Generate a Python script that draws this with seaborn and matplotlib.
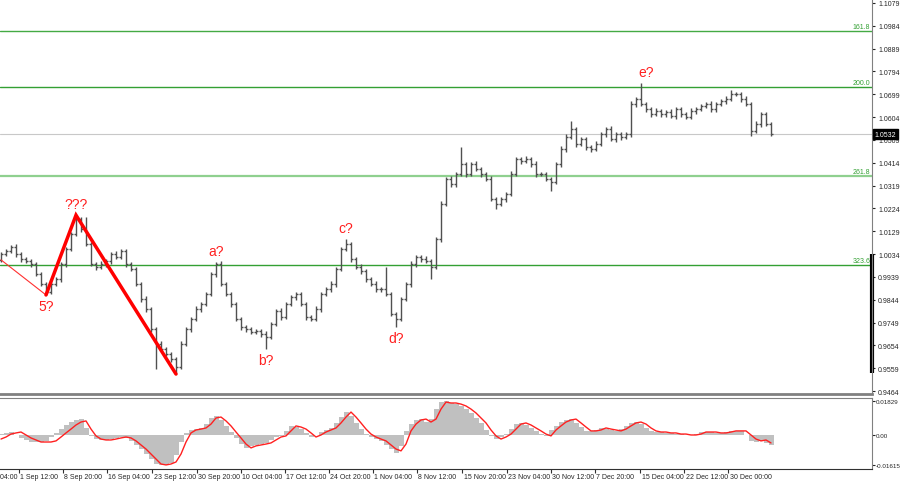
import numpy as np
import pandas as pd
import matplotlib
matplotlib.use("Agg")
import matplotlib.pyplot as plt
import matplotlib.transforms as mtransforms
import seaborn as sns

# bar closes, left to right (open = previous close)
first_open = 1.0010
closes = [
    1.0034, 1.0046, 1.0063, 1.0034, 1.0013, 1.0005, 0.9992, 0.9951, 0.9909, 0.9876,
    0.9909, 0.9930, 0.9992, 1.0055, 1.0117, 1.0180, 1.0138, 1.0076, 0.9992, 0.9980,
    0.9992, 1.0005, 1.0034, 1.0022, 1.0046, 0.9992, 0.9972, 0.9909, 0.9847, 0.9805,
    0.9722, 0.9660, 0.9639, 0.9618, 0.9597, 0.9564, 0.9660, 0.9722, 0.9764, 0.9805,
    0.9826, 0.9868, 0.9951, 0.9992, 0.9909, 0.9868, 0.9826, 0.9764, 0.9730, 0.9722,
    0.9710, 0.9714, 0.9701, 0.9689, 0.9743, 0.9797, 0.9772, 0.9826, 0.9855, 0.9868,
    0.9826, 0.9772, 0.9764, 0.9805, 0.9868, 0.9888, 0.9909, 0.9972, 1.0055, 1.0076,
    1.0013, 0.9980, 0.9963, 0.9930, 0.9909, 0.9888, 0.9888, 0.9868, 0.9784, 0.9764,
    0.9847, 0.9909, 0.9992, 1.0022, 1.0013, 1.0005, 0.9980, 1.0096, 1.0242, 1.0346,
    1.0325, 1.0367, 1.0408, 1.0367, 1.0408, 1.0388, 1.0367, 1.0346, 1.0263, 1.0242,
    1.0263, 1.0284, 1.0367, 1.0429, 1.0421, 1.0429, 1.0408, 1.0367, 1.0367, 1.0346,
    1.0334, 1.0408, 1.0471, 1.0521, 1.0554, 1.0492, 1.0512, 1.0479, 1.0471, 1.0492,
    1.0533, 1.0554, 1.0512, 1.0533, 1.0521, 1.0533, 1.0658, 1.0679, 1.0658, 1.0637,
    1.0616, 1.0629, 1.0616, 1.0625, 1.0608, 1.0637, 1.0616, 1.0604, 1.0629, 1.0637,
    1.0650, 1.0658, 1.0637, 1.0658, 1.0670, 1.0679, 1.0700, 1.0700, 1.0679, 1.0658,
    1.0546, 1.0575, 1.0616, 1.0575, 1.0532,
]
# wick sizes in pips above max(open, close) and below min(open, close)
up_wick = [
    10, 8, 9, 12, 8, 10, 9, 8, 10, 8,
    9, 10, 8, 9, 10, 16, 8, 50, 10, 9,
    12, 9, 10, 11, 10, 8, 9, 10, 8, 12,
    9, 10, 11, 8, 9, 10, 12, 9, 10, 11,
    8, 9, 10, 9, 12, 10, 8, 9, 10, 11,
    9, 8, 10, 12, 9, 10, 11, 9, 10, 8,
    9, 10, 8, 11, 9, 10, 12, 9, 10, 20,
    10, 9, 12, 10, 9, 11, 8, 92, 10, 9,
    10, 9, 12, 10, 9, 11, 10, 9, 12, 10,
    11, 9, 71, 10, 9, 12, 10, 9, 11, 10,
    9, 10, 12, 9, 10, 11, 9, 12, 10, 8,
    10, 9, 11, 12, 33, 10, 11, 9, 10, 12,
    10, 9, 11, 10, 9, 10, 12, 10, 66, 9,
    10, 12, 9, 10, 11, 9, 10, 9, 12, 10,
    9, 10, 12, 9, 10, 11, 16, 9, 10, 12,
    10, 11, 9, 10, 8,
]
dn_wick = [
    9, 10, 8, 11, 10, 9, 12, 10, 9, 12,
    10, 9, 11, 10, 8, 9, 12, 10, 9, 11,
    9, 10, 12, 10, 9, 11, 10, 9, 12, 10,
    11, 104, 10, 9, 12, 29, 10, 9, 11, 10,
    12, 9, 10, 11, 9, 10, 12, 9, 10, 11,
    10, 9, 12, 50, 10, 9, 11, 10, 9, 12,
    10, 11, 9, 10, 12, 9, 10, 11, 9, 10,
    12, 9, 10, 11, 9, 10, 12, 10, 9, 34,
    10, 9, 12, 11, 10, 9, 50, 10, 12, 9,
    11, 10, 9, 12, 10, 9, 11, 10, 9, 21,
    10, 12, 9, 10, 11, 9, 10, 12, 9, 10,
    38, 9, 10, 12, 10, 11, 9, 10, 12, 9,
    10, 12, 9, 10, 11, 9, 10, 12, 9, 10,
    11, 9, 10, 12, 9, 10, 11, 9, 10, 12,
    9, 10, 11, 10, 9, 12, 10, 9, 11, 10,
    21, 10, 12, 9, 8,
]

# MACD (histogram) and signal, in units of 1e-4
macd_hist = [
    5, 11, 16, 0, -16, -27, -38, -38, -38, -32,
    -11, 11, 32, 54, 70, 80, 86, 40, -5, -22,
    -27, -27, -22, -16, -11, -16, -32, -54, -76, -103,
    -130, -157, -165, -162, -150, -110, -40, 11, 27, 32,
    38, 59, 92, 100, 80, 49, 16, -16, -49, -70,
    -62, -54, -49, -43, -27, -11, -5, 22, 49, 43,
    32, 11, -11, 0, 16, 27, 38, 65, 97, 126,
    100, 65, 32, 5, -11, -22, -32, -54, -76, -95,
    -60, 22, 59, 81, 86, 70, 86, 140, 178, 182,
    175, 170, 157, 140, 119, 92, 65, 27, -5, -22,
    -11, 5, 32, 59, 65, 54, 38, 22, 5, -5,
    27, 49, 70, 81, 86, 65, 43, 22, 22, 27,
    38, 32, 27, 22, 32, 49, 65, 70, 59, 38,
    22, 16, 16, 11, 11, 5, 5, 0, 0, 5,
    16, 16, 16, 11, 11, 16, 22, 22, 22, 0,
    -30, -40, -32, -45, -55,
]
macd_signal = [
    -22, -11, 5, 11, 16, 0, -16, -27, -38, -38,
    -38, -32, -11, 11, 32, 54, 70, 76, 32, -5,
    -22, -27, -27, -22, -16, -11, -16, -32, -54, -76,
    -103, -130, -157, -162, -157, -146, -103, -38, 11, 27,
    32, 38, 59, 92, 97, 76, 49, 16, -16, -49,
    -70, -59, -54, -49, -43, -27, -11, -5, 22, 49,
    43, 32, 11, -11, 0, 16, 27, 38, 65, 97,
    124, 97, 65, 32, 5, -11, -22, -32, -54, -76,
    -86, -49, 22, 59, 81, 86, 70, 86, 140, 178,
    173, 173, 167, 157, 140, 119, 92, 65, 27, -5,
    -22, -11, 5, 32, 59, 65, 54, 38, 22, 5,
    -5, 27, 49, 70, 81, 86, 65, 43, 22, 22,
    27, 38, 32, 27, 22, 32, 49, 65, 70, 59,
    38, 22, 16, 16, 11, 11, 5, 5, 0, 0,
    5, 16, 16, 16, 11, 11, 16, 22, 22, 22,
    0, -22, -32, -27, -43,
]

fib_levels = [1.0962, 1.0729, 1.0358, 0.9988]
fib_names = ["161.8", "200.0", "261.8", "323.6"]
fib_colors = ["#44aa44", "#33a033", "#8fd08f", "#33a033"]
last_price = 1.0532
axis_bar_range = (0.9540, 1.0034)

price_ticks = [0.9464, 0.9559, 0.9654, 0.9749, 0.9844, 0.9939, 1.0034, 1.0129, 1.0224,
               1.0319, 1.0414, 1.0509, 1.0604, 1.0699, 1.0794, 1.0889, 1.0984, 1.1079]
macd_ticks = [0.01829, 0.0, -0.01615]
macd_tick_labels = ["0.01829", "0.00", "-0.01615"]

# wave count labels: name, bar index, at a high or a low
wave_names = ["5?", "???", "a?", "b?", "c?", "d?", "e?"]
wave_idx = [9, 15, 43, 53, 69, 79, 128]
wave_side = ["low", "high", "high", "low", "high", "low", "high"]

date_labels = ["25 Aug 04:00", "1 Sep 12:00", "8 Sep 20:00", "16 Sep 04:00", "23 Sep 12:00",
               "30 Sep 20:00", "10 Oct 04:00", "17 Oct 12:00", "24 Oct 20:00", "1 Nov 04:00",
               "8 Nov 12:00", "15 Nov 20:00", "23 Nov 04:00", "30 Nov 12:00", "7 Dec 20:00",
               "15 Dec 04:00", "22 Dec 12:00", "30 Dec 00:00"]
date_pos = [-5.2, 3.6, 12.4, 21.2, 30.2, 39.2, 48.0, 56.8, 65.6, 74.4,
            83.2, 92.2, 101.2, 110.0, 118.8, 127.8, 136.6, 145.4]

# build the bars
df = pd.DataFrame({"close": closes, "up": up_wick, "dn": dn_wick})
df["open"] = df["close"].shift(1).fillna(first_open)
df["high"] = df[["open", "close"]].max(axis=1) + df["up"] * 1e-4
df["low"] = df[["open", "close"]].min(axis=1) - df["dn"] * 1e-4
df["x"] = np.arange(len(df))
df["hist"] = np.array(macd_hist) * 1e-4
df["signal"] = np.array(macd_signal) * 1e-4

sns.set_style("white")
plt.rcParams['font.family'] = ['Liberation Sans', 'DejaVu Sans']
small = 5.0

fig = plt.figure(figsize=(9, 4.85), dpi=100)
W, H = 900.0, 485.0
ax = fig.add_axes([0, 1 - 395 / H, 872 / W, 394 / H])
ax2 = fig.add_axes([0, 1 - 470 / H, 872 / W, 71 / H])

bar_col = "#505050"
ax.vlines(df["x"], df["low"], df["high"], color=bar_col, lw=1.0)
ax.hlines(df["open"], df["x"] - 0.35, df["x"], color=bar_col, lw=1.0)
ax.hlines(df["close"], df["x"], df["x"] + 0.35, color=bar_col, lw=1.0)

# fibonacci levels
trans = mtransforms.blended_transform_factory(ax.transAxes, ax.transData)
for lvl, name, col in zip(fib_levels, fib_names, fib_colors):
    lw = 1.6 if name == "261.8" else 1.0
    ax.axhline(lvl, color=col, lw=lw, zorder=1)
    ax.text(0.998, lvl + 0.0004, name, transform=trans, ha="right", va="bottom",
            fontsize=small, color="#33a033")
ax.axhline(last_price, color="#c8c8c8", lw=0.8, zorder=1)

# wave lines
p5 = (wave_idx[0], df["low"][wave_idx[0]])
p_top = (wave_idx[1], df["high"][wave_idx[1]])
p_bot = (35, df["low"][35])
ax.plot([0, p5[0]], [first_open, p5[1]], color="#ff3030", lw=0.8)
ax.plot([p5[0], p_top[0], p_bot[0]], [p5[1], p_top[1], p_bot[1]], color="#ff0000", lw=2.5,
        solid_joinstyle="miter")

for name, i, side in zip(wave_names, wave_idx, wave_side):
    if side == "high":
        y, off, va = df["high"][i], 4, "bottom"
    else:
        y, off, va = df["low"][i], -4, "top"
    dx = 5 if name == "e?" else 0
    ax.annotate(name, (i, y), xytext=(dx, off), textcoords="offset pixels",
                ha="center", va=va, fontsize=10, color="#ff2020")

ax.set_xlim(-0.2, 174.2)
ax.set_ylim(0.9452, 1.1091)
ax.yaxis.tick_right()
ax.set_yticks(price_ticks)
ax.set_yticklabels([f"{t:.4f}" for t in price_ticks])
ax.tick_params(axis="y", labelsize=small, length=2.5, pad=2, direction="out", right=True)
ax.set_xticks([])
for s in ["left", "top"]:
    ax.spines[s].set_visible(False)
ax.spines["right"].set_color("#808080")
ax.spines["bottom"].set_color("#808080")
ax.spines["bottom"].set_linewidth(2)

ax.plot([1, 1], list(axis_bar_range), transform=trans, color="black", lw=3,
        clip_on=False, solid_capstyle="butt")
ax.text(1.003, last_price, f"{last_price:.4f}", transform=trans, ha="left", va="center",
        fontsize=small, color="white", bbox=dict(facecolor="black", edgecolor="black", pad=1.0))

# MACD panel
ax2.bar(df["x"], df["hist"], width=1.0, color="#c0c0c0", linewidth=0)
sns.lineplot(data=df, x="x", y="signal", color="#ff2020", linewidth=1.0, ax=ax2)
ax2.set_xlim(-0.2, 174.2)
ax2.set_ylim(-0.0184, 0.0200)
ax2.yaxis.tick_right()
ax2.set_yticks(macd_ticks)
ax2.set_yticklabels(macd_tick_labels)
ax2.tick_params(axis="y", labelsize=4.5, length=2, pad=1, direction="out", right=True)
ax2.set_xlabel("")
ax2.set_ylabel("")
ax2.spines["left"].set_visible(False)
ax2.spines["top"].set_color("#808080")
ax2.spines["right"].set_color("#808080")
ax2.spines["bottom"].set_color("#303030")

ax2.set_xticks([p for p in date_pos if p >= 0])
ax2.set_xticklabels([])
ax2.tick_params(axis="x", length=3, direction="out", bottom=True, color="#303030")
tx = mtransforms.blended_transform_factory(ax2.transData, ax2.transAxes)
for pos, lab in zip(date_pos, date_labels):
    ax2.text(pos + 0.3, -0.06, lab, transform=tx, ha="left", va="top", fontsize=small,
             clip_on=False)

fig.savefig("out.png", dpi=100, facecolor="white")
